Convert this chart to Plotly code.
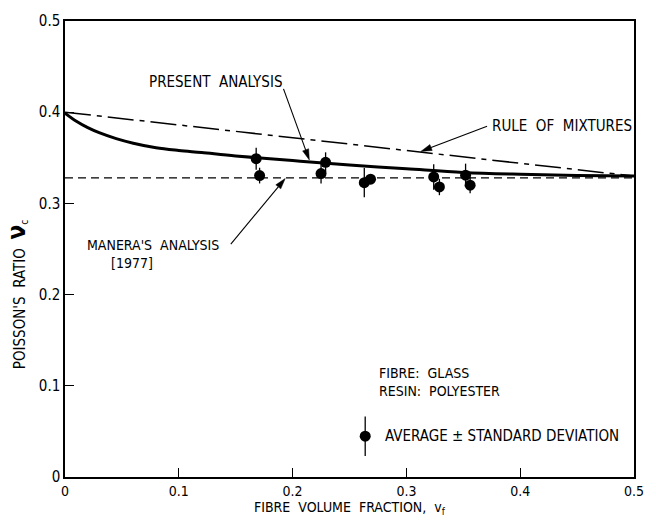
import math
import plotly.graph_objects as go

# ---- data ----
present_x = [0, 0.01, 0.02, 0.03, 0.045, 0.06, 0.08, 0.1, 0.12, 0.15, 0.2, 0.25, 0.3, 0.35, 0.4, 0.45, 0.5]
present_y = [0.399, 0.390, 0.383, 0.3775, 0.371, 0.366, 0.361, 0.358, 0.3557, 0.352, 0.347, 0.342, 0.338, 0.334, 0.332, 0.3307, 0.330]

rom_x = [0.0, 0.5]
rom_y = [0.400, 0.330]

manera_x = [0.0, 0.5]
manera_y = [0.328, 0.328]

exp_x = [0.168, 0.171, 0.229, 0.225, 0.263, 0.2685, 0.324, 0.329, 0.352, 0.356]
exp_y = [0.349, 0.3305, 0.345, 0.3327, 0.3227, 0.3265, 0.329, 0.318, 0.331, 0.320]
exp_sd = [0.012, 0.0086, 0.011, 0.011, 0.016, 0.005, 0.014, 0.009, 0.0126, 0.009]

legend_x = [0.2638]
legend_y = [0.0447]
legend_sd = [0.0216]

xticks = [0, 0.1, 0.2, 0.3, 0.4, 0.5]
xtick_labels = ["0", "0.1", "0.2", "0.3", "0.4", "0.5"]
yticks = [0, 0.1, 0.2, 0.3, 0.4, 0.5]
ytick_labels = ["0", "0.1", "0.2", "0.3", "0.4", "0.5"]

FONT = "Liberation Sans Narrow, DejaVu Sans Condensed, Arial Narrow, Liberation Sans, sans-serif"

# plot-area geometry (pixels per data unit) for arrowhead construction
W, H = 656, 528
ML, MR, MT, MB = 65, 18, 13, 51
PX_X = (W - ML - MR) / 0.5
PX_Y = (H - MT - MB) / 0.5

fig = go.Figure()

fig.add_trace(go.Scatter(x=rom_x, y=rom_y, mode="lines",
                         line=dict(color="black", width=1.5, dash="26px,6px,5px,6px"),
                         showlegend=False, hoverinfo="skip"))
fig.add_trace(go.Scatter(x=manera_x, y=manera_y, mode="lines",
                         line=dict(color="black", width=1.3, dash="8px,5px"),
                         showlegend=False, hoverinfo="skip"))
fig.add_trace(go.Scatter(x=present_x, y=present_y, mode="lines", line_shape="spline",
                         line=dict(color="black", width=3),
                         showlegend=False, hoverinfo="skip"))
fig.add_trace(go.Scatter(x=exp_x, y=exp_y, mode="markers",
                         marker=dict(color="black", size=11),
                         error_y=dict(type="data", array=exp_sd, visible=True,
                                      color="black", thickness=1.3, width=0),
                         showlegend=False))
fig.add_trace(go.Scatter(x=legend_x, y=legend_y, mode="markers",
                         marker=dict(color="black", size=11),
                         error_y=dict(type="data", array=legend_sd, visible=True,
                                      color="black", thickness=1.3, width=0),
                         showlegend=False, hoverinfo="skip"))

txt = dict(family=FONT, size=15, color="black")
txt14 = dict(family=FONT, size=14, color="black")
NB = "\u00a0"

labels = [
    dict(x=0.0724, y=0.4332, text="PRESENT  ANALYSIS", xanchor="left", font=txt),
    dict(x=0.3735, y=0.3847, text="RULE  OF  MIXTURES", xanchor="left", font=txt),
    dict(x=0.0175, y=0.2440, text="MANERA'S  ANALYSIS<br>" + NB * 6 + "[1977]",
         xanchor="left", align="left", font=txt14),
    dict(x=0.2745, y=0.1044, text="FIBRE:  GLASS<br>RESIN:  POLYESTER",
         xanchor="left", align="left", font=txt14),
    dict(x=0.279, y=0.0447, text="AVERAGE ± STANDARD DEVIATION", xanchor="left", font=txt),
]
annos = []
for a in labels:
    a.update(xref="x", yref="y", showarrow=False, yanchor="middle")
    annos.append(a)

# axis titles
annos.append(dict(x=0.5, y=-0.068, xref="paper", yref="paper",
                  text="FIBRE  VOLUME  FRACTION,  v<sub>f</sub>", showarrow=False,
                  font=txt14, xanchor="center", yanchor="middle"))
annos.append(dict(x=-0.085, y=0.40, xref="paper", yref="paper", textangle=-90,
                  text="POISSON'S  RATIO  <b><span style='font-size:24px'>ν</span></b><sub>c</sub>",
                  showarrow=False, font=txt, xanchor="center", yanchor="middle"))

# arrows drawn as shapes (line + filled head)
shapes = []
arrows = [(0.192, 0.4256, 0.2147, 0.3476),
          (0.3709, 0.3847, 0.3127, 0.357),
          (0.1457, 0.2554, 0.1935, 0.3273)]
HL, HW = 11.0, 3.2  # head length / half width in px
for (tx, ty, hx, hy) in arrows:
    dxp = (hx - tx) * PX_X
    dyp = (hy - ty) * PX_Y
    L = math.hypot(dxp, dyp)
    ux, uy = dxp / L, dyp / L
    bx = hx - ux * HL / PX_X
    by = hy - uy * HL / PX_Y
    px_, py_ = -uy, ux
    p1 = (bx + px_ * HW / PX_X, by + py_ * HW / PX_Y)
    p2 = (bx - px_ * HW / PX_X, by - py_ * HW / PX_Y)
    shapes.append(dict(type="line", xref="x", yref="y", x0=tx, y0=ty, x1=bx, y1=by,
                       line=dict(color="black", width=1.1)))
    shapes.append(dict(type="path", xref="x", yref="y",
                       path=f"M {hx} {hy} L {p1[0]} {p1[1]} L {p2[0]} {p2[1]} Z",
                       fillcolor="black", line=dict(color="black", width=0.5)))

fig.update_layout(
    width=W, height=H,
    margin=dict(l=ML, r=MR, t=MT, b=MB),
    paper_bgcolor="white", plot_bgcolor="white",
    annotations=annos, shapes=shapes,
    font=txt,
)
fig.update_xaxes(range=[0, 0.5], tickvals=xticks, ticktext=xtick_labels,
                 ticks="inside", ticklen=9, tickwidth=1.2, tickcolor="black",
                 showline=True, linecolor="black", linewidth=1.5, mirror=True,
                 showgrid=False, zeroline=False, tickfont=txt14)
fig.update_yaxes(range=[0, 0.5], tickvals=yticks, ticktext=ytick_labels,
                 ticks="inside", ticklen=9, tickwidth=1.2, tickcolor="black",
                 showline=True, linecolor="black", linewidth=1.5, mirror=True,
                 showgrid=False, zeroline=False, tickfont=txt)

fig.write_html("out.html")
